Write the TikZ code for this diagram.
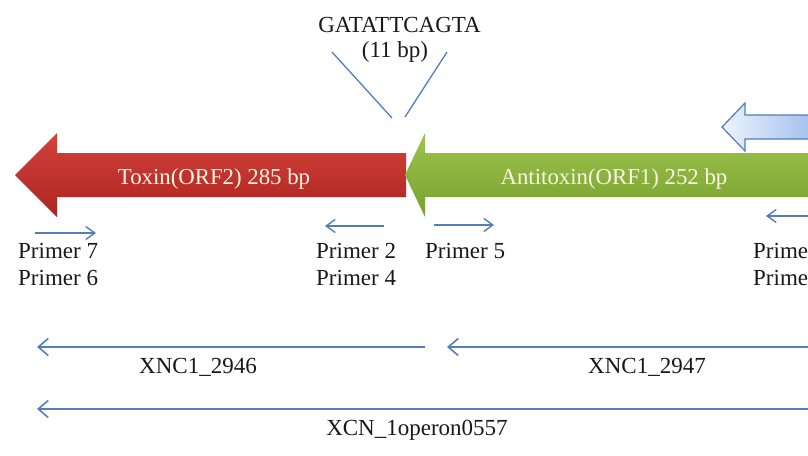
\documentclass[tikz,border=0pt]{standalone}
\usepackage{fontspec}
\setmainfont{Liberation Serif}
\usetikzlibrary{arrows.meta}
\definecolor{lineblue}{RGB}{84,126,186}
\definecolor{redtop}{RGB}{212,66,60}
\definecolor{redbot}{RGB}{172,36,32}
\definecolor{greentop}{RGB}{158,196,78}
\definecolor{greenbot}{RGB}{120,160,46}
\definecolor{bluefillL}{RGB}{236,243,252}
\definecolor{bluefillR}{RGB}{150,182,234}
\definecolor{blueedge}{RGB}{80,124,190}
\definecolor{genetext}{RGB}{250,246,225}
\definecolor{ink}{RGB}{25,25,25}
\tikzset{
  lbl/.style={font=\fontsize{23}{26}\selectfont, text=ink, inner sep=0pt, anchor=base},
  lblw/.style={lbl, anchor=base west},
  genelbl/.style={font=\fontsize{22.8}{26}\selectfont, text=genetext, inner sep=0pt, anchor=base},
  primerarrow/.style={draw=lineblue, line width=1.4pt, -{Straight Barb[length=9pt,width=13pt,line width=1.4pt]}},
  genearrow/.style={draw=lineblue, line width=1.6pt, -{Straight Barb[length=10pt,width=17pt,line width=1.6pt]}},
  insline/.style={draw=lineblue, line width=1.3pt},
}
\begin{document}
\begin{tikzpicture}[x=1pt,y=-1pt]
\useasboundingbox (0,0) rectangle (808,455);
\clip (0,0) rectangle (808,455);
\fill[white] (0,0) rectangle (808,455);

% toxin (red) arrow
\shade[top color=redtop, bottom color=redbot]
  (15,175) -- (57,133) -- (57,153) -- (406,153) -- (406,197) -- (57,197) -- (57,217) -- cycle;
% antitoxin (green) arrow
\shade[top color=greentop, bottom color=greenbot]
  (405,175) -- (425,133) -- (425,153) -- (820,153) -- (820,197) -- (425,197) -- (425,217) -- cycle;
% partial blue arrow
\shade[left color=bluefillL, right color=bluefillR, draw=blueedge, line width=1.2pt]
  (722,127) -- (745,103) -- (745,115) -- (830,115) -- (830,139) -- (745,139) -- (745,151) -- cycle;

\node[genelbl] (tox) at (214,184) {Toxin(ORF2) 285 bp};
\node[genelbl] (antitox) at (614,184) {Antitoxin(ORF1) 252 bp};

% insertion
\node[lbl] (seq) at (399.5,32) {GATATTCAGTA};
\node[lbl] (len) at (395,57) {(11 bp)};
\coordinate (insL1) at (332,52);
\coordinate (insL2) at (392,118);
\coordinate (insR1) at (447,52);
\coordinate (insR2) at (405,117);
\draw[insline] (insL1) -- (insL2);
\draw[insline] (insR1) -- (insR2);

% primers
\node[lblw] (p7) at (18,258) {Primer 7};
\node[lblw] (p6) at (18,285) {Primer 6};
\node[lblw] (p2) at (316,258) {Primer 2};
\node[lblw] (p4) at (316,285) {Primer 4};
\node[lblw] (p5) at (425,258) {Primer 5};
\node[lblw] (pr1) at (753,258) {Prime};
\node[lblw] (pr2) at (753,285) {Prime};

\coordinate (a7s) at (35,233);  \coordinate (a7e) at (96,233);
\coordinate (a2s) at (384,226); \coordinate (a2e) at (325,226);
\coordinate (a5s) at (434,225); \coordinate (a5e) at (494,225);
\coordinate (a8s) at (812,216); \coordinate (a8e) at (766,216);
\draw[primerarrow] (a7s) -- (a7e);
\draw[primerarrow] (a2s) -- (a2e);
\draw[primerarrow] (a5s) -- (a5e);
\draw[primerarrow] (a8s) -- (a8e);

% genes
\coordinate (g1s) at (425,347); \coordinate (g1e) at (37,347);
\coordinate (g2s) at (812,347); \coordinate (g2e) at (447,347);
\coordinate (ops) at (812,409);  \coordinate (ope) at (37,409);
\draw[genearrow] (g1s) -- (g1e);
\draw[genearrow] (g2s) -- (g2e);
\draw[genearrow] (ops) -- (ope);
\node[lbl] (xnc46) at (198,373) {XNC1\_2946};
\node[lbl] (xnc47) at (647,373) {XNC1\_2947};
\node[lbl] (operon) at (417,435) {XCN\_1operon0557};
\end{tikzpicture}
\end{document}
